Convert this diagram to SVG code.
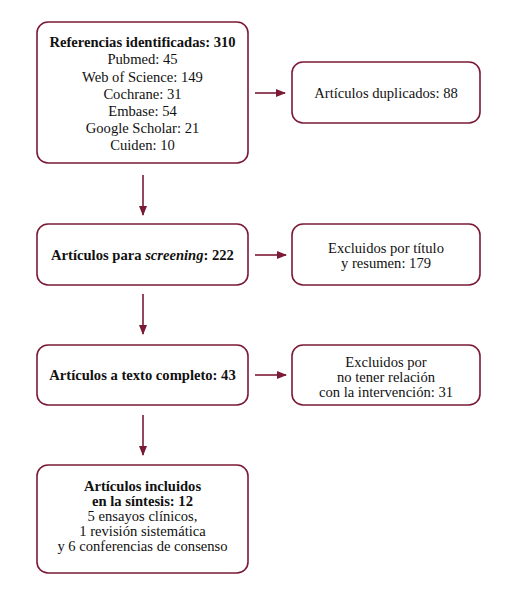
<svg xmlns="http://www.w3.org/2000/svg" width="518" height="592" viewBox="0 0 518 592">
<style>
.box{fill:#fff;stroke:#7a1a35;stroke-width:1.6}
text{font-family:"Liberation Serif","Times New Roman",serif;font-size:14.6px;fill:#111;text-anchor:middle}
.b{font-weight:bold}
.c line{stroke:#7a1a35;stroke-width:1.6}
</style>
<defs>
<marker id="ah" markerWidth="10" markerHeight="8" refX="9" refY="4" orient="auto" markerUnits="userSpaceOnUse">
<path d="M0,0 L10,4 L0,8 z" fill="#7a1a35"/>
</marker>
</defs>
<rect width="518" height="592" fill="#fff"/>
<g class="c" id="connectors">
<line x1="143" y1="175" x2="143" y2="215" marker-end="url(#ah)"/>
<line x1="143" y1="294" x2="143" y2="334" marker-end="url(#ah)"/>
<line x1="143" y1="415" x2="143" y2="455" marker-end="url(#ah)"/>
<line x1="255" y1="93" x2="285" y2="93" marker-end="url(#ah)"/>
<line x1="255" y1="255" x2="286" y2="255" marker-end="url(#ah)"/>
<line x1="255" y1="375" x2="286" y2="375" marker-end="url(#ah)"/>
</g>
<g id="n1">
<rect class="box" x="37" y="22" width="211" height="141" rx="11"/>
<text class="b" x="142.5" y="47">Referencias identificadas: 310</text>
<text x="142.5" y="64">Pubmed: 45</text>
<text x="142.5" y="81.5">Web of Science: 149</text>
<text x="142.5" y="99">Cochrane: 31</text>
<text x="142.5" y="116">Embase: 54</text>
<text x="142.5" y="133">Google Scholar: 21</text>
<text x="142.5" y="149.5">Cuiden: 10</text>
</g>
<g id="n2">
<rect class="box" x="292" y="62" width="188" height="61" rx="11"/>
<text x="386" y="98">Artículos duplicados: 88</text>
</g>
<g id="n3">
<rect class="box" x="37" y="224" width="211" height="61" rx="11"/>
<text class="b" x="142.5" y="260">Artículos para <tspan font-style="italic">screening</tspan>: 222</text>
</g>
<g id="n4">
<rect class="box" x="292" y="224" width="188" height="61" rx="11"/>
<text x="386" y="253">Excluidos por título</text>
<text x="386" y="267.5">y resumen: 179</text>
</g>
<g id="n5">
<rect class="box" x="37" y="345" width="211" height="60" rx="11"/>
<text class="b" x="142.5" y="380">Artículos a texto completo: 43</text>
</g>
<g id="n6">
<rect class="box" x="292" y="345" width="188" height="60" rx="11"/>
<text x="386" y="366.5">Excluidos por</text>
<text x="386" y="381.5">no tener relación</text>
<text x="386" y="396.5">con la intervención: 31</text>
</g>
<g id="n7">
<rect class="box" x="37" y="465" width="211" height="108" rx="11"/>
<text class="b" x="142.5" y="490.5">Artículos incluidos</text>
<text class="b" x="142.5" y="505.5">en la síntesis: 12</text>
<text x="142.5" y="520.5">5 ensayos clínicos,</text>
<text x="142.5" y="535.5">1 revisión sistemática</text>
<text x="142.5" y="550.5">y 6 conferencias de consenso</text>
</g>
</svg>
